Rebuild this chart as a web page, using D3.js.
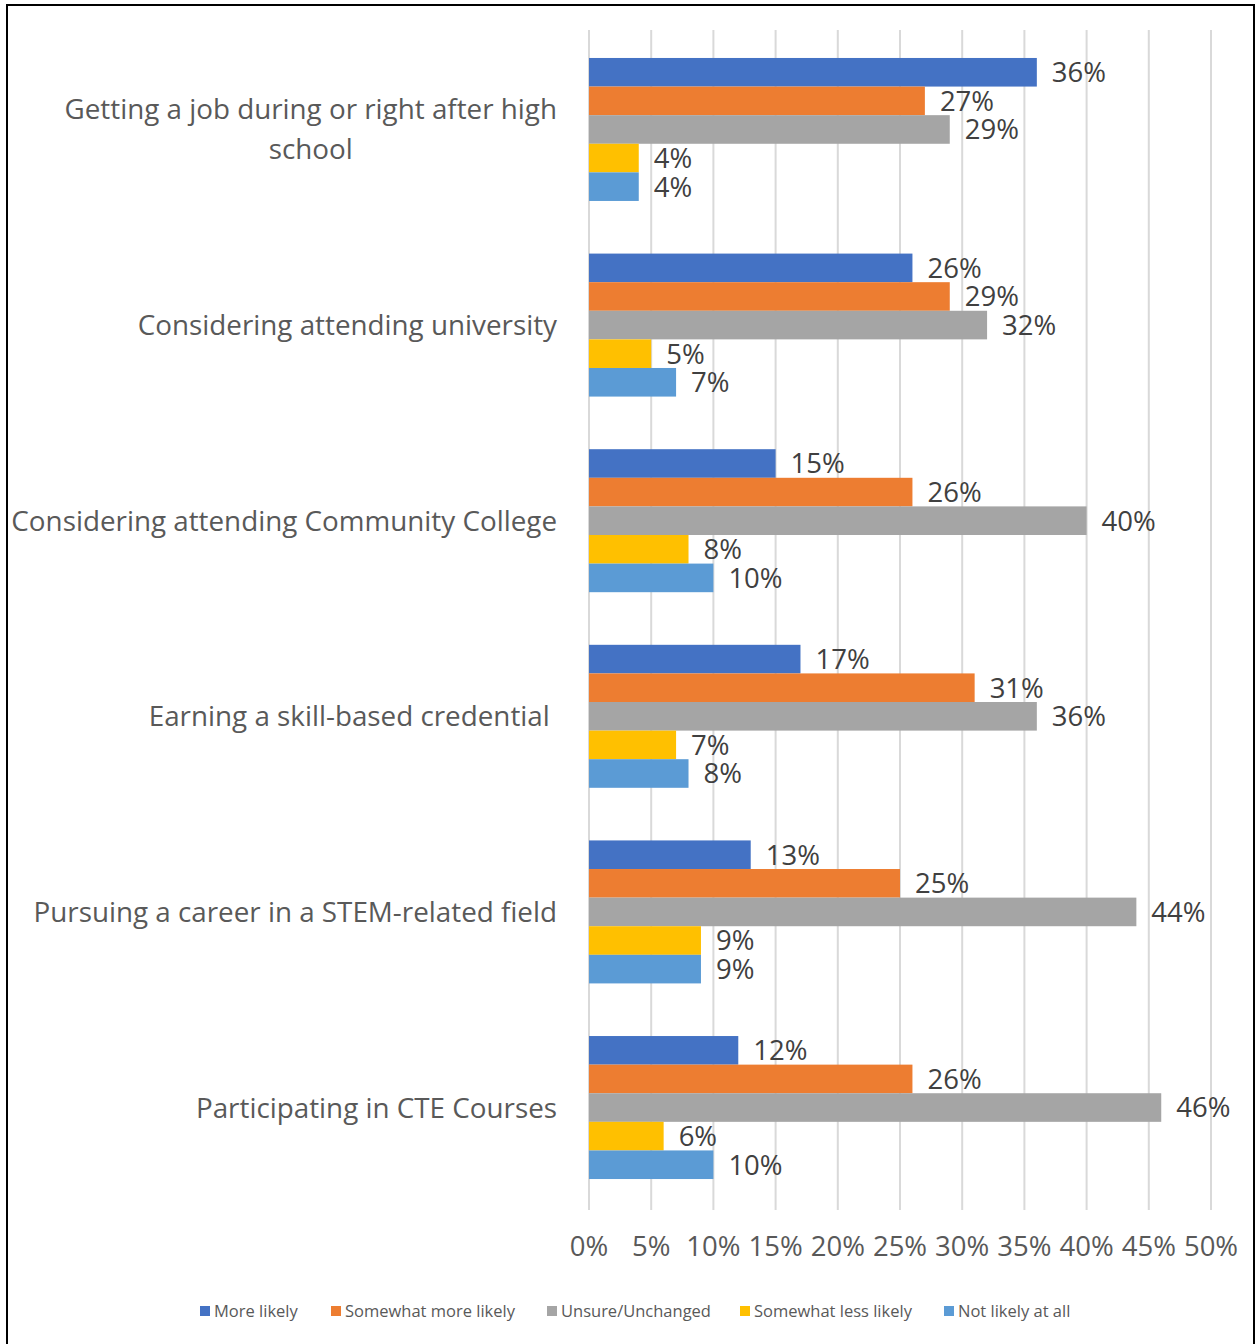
<!DOCTYPE html>
<html>
<head>
<meta charset="utf-8">
<script src="https://cdn.jsdelivr.net/npm/d3@7"></script>
<style>
  html, body { margin: 0; padding: 0; background: #fff; }
  svg { display: block; font-family: "Open Sans", Lato, sans-serif; }
</style>
</head>
<body>
<svg id="chart" width="1255" height="1344"></svg>
<script>
// Survey outcomes by topic
const categories = [
  ["Getting a job during or right after high", "school"],
  ["Considering attending university"],
  ["Considering attending Community College"],
  ["Earning a skill-based credential "],
  ["Pursuing a career in a STEM-related field"],
  ["Participating in CTE Courses"]
];
const seriesNames = ["More likely", "Somewhat more likely", "Unsure/Unchanged", "Somewhat less likely", "Not likely at all"];
const seriesColors = ["#4472C4", "#ED7D31", "#A5A5A5", "#FFC000", "#5B9BD5"];
const moreLikely         = [36, 26, 15, 17, 13, 12];
const somewhatMoreLikely = [27, 29, 26, 31, 25, 26];
const unsureUnchanged    = [29, 32, 40, 36, 44, 46];
const somewhatLessLikely = [4, 5, 8, 7, 9, 6];
const notLikelyAtAll     = [4, 7, 10, 8, 9, 10];
const tickValues = [0, 5, 10, 15, 20, 25, 30, 35, 40, 45, 50];

const seriesValues = [moreLikely, somewhatMoreLikely, unsureUnchanged, somewhatLessLikely, notLikelyAtAll];

const svg = d3.select("#chart");

// outer frame
svg.append("rect")
  .attr("x", 7).attr("y", 5).attr("width", 1247).attr("height", 1360)
  .attr("fill", "none").attr("stroke", "#000").attr("stroke-width", 2);

const plot = { left: 589, right: 1211, top: 30, bottom: 1210 };

const x = d3.scaleLinear().domain([0, 50]).range([plot.left, plot.right]);
const y = d3.scaleBand().domain(d3.range(categories.length))
  .range([plot.top, 1207]).paddingInner(0.269).paddingOuter(0.143);
const ySub = d3.scaleBand().domain(d3.range(seriesNames.length)).range([0, y.bandwidth()]);

// vertical gridlines
svg.append("g").selectAll("line").data(tickValues).join("line")
  .attr("x1", d => x(d)).attr("x2", d => x(d))
  .attr("y1", plot.top).attr("y2", plot.bottom)
  .attr("stroke", "#D9D9D9").attr("stroke-width", 2);

// bars
const groups = svg.append("g").selectAll("g").data(categories).join("g")
  .attr("transform", (d, i) => `translate(0,${y(i)})`);

groups.each(function (cat, ci) {
  const g = d3.select(this);
  seriesValues.forEach((vals, si) => {
    g.append("rect")
      .attr("x", x(0))
      .attr("y", ySub(si))
      .attr("width", x(vals[ci]) - x(0))
      .attr("height", ySub.bandwidth())
      .attr("fill", seriesColors[si]);
    g.append("text")
      .attr("x", x(vals[ci]) + 15)
      .attr("y", ySub(si) + ySub.bandwidth() / 2)
      .attr("dy", "0.36em")
      .attr("font-size", 27.5)
      .attr("fill", "#404040")
      .text(vals[ci] + "%");
  });
});

// category labels (right aligned block, lines centred within block)
const labelRight = 557;
groups.each(function (lines, ci) {
  const g = d3.select(this);
  const lineH = 40;
  const mid = y.bandwidth() / 2;
  const t = g.append("text")
    .attr("font-size", 27.8)
    .attr("fill", "#595959")
    .style("white-space", "pre");
  const spans = lines.map((line, li) => t.append("tspan")
    .attr("y", mid + (li - (lines.length - 1) / 2) * lineH)
    .attr("dy", "0.36em")
    .text(line));
  const widths = spans.map(s => s.node().getComputedTextLength());
  const maxW = d3.max(widths);
  spans.forEach(s => s.attr("x", labelRight - maxW / 2).attr("text-anchor", "middle"));
});

// x axis labels
svg.append("g").selectAll("text").data(tickValues).join("text")
  .attr("x", d => x(d))
  .attr("y", 1246)
  .attr("dy", "0.36em")
  .attr("text-anchor", "middle")
  .attr("font-size", 27.5)
  .attr("fill", "#595959")
  .text(d => d + "%");

// legend
const legendX = [200, 331, 547, 740, 944];
const legend = svg.append("g").selectAll("g").data(seriesNames).join("g")
  .attr("transform", (d, i) => `translate(${legendX[i]},1311)`);
legend.append("rect")
  .attr("x", 0).attr("y", -5).attr("width", 10).attr("height", 10)
  .attr("fill", (d, i) => seriesColors[i]);
legend.append("text")
  .attr("x", 14).attr("dy", "0.36em")
  .attr("font-size", 16.5)
  .attr("fill", "#595959")
  .text(d => d);
</script>
</body>
</html>
